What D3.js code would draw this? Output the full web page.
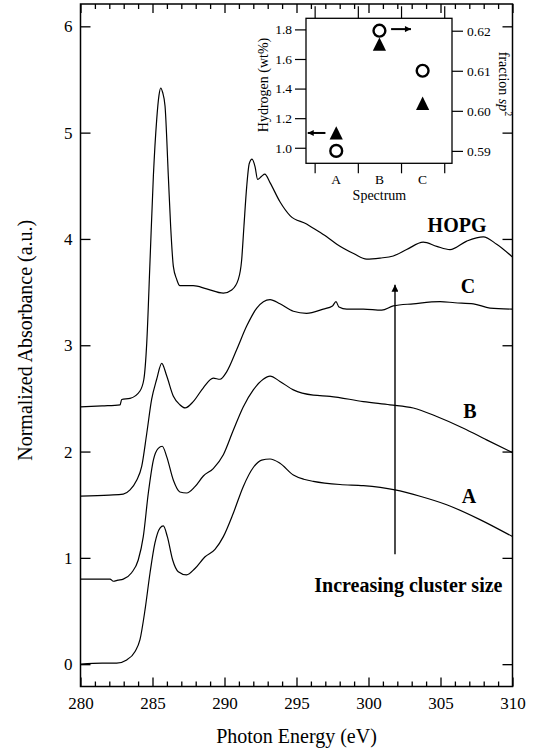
<!DOCTYPE html>
<html>
<head>
<meta charset="utf-8">
<script src="https://cdn.jsdelivr.net/npm/d3@7"></script>
<style>
  body { margin: 0; background: #fff; }
  svg text { font-family: "Liberation Serif", "Times New Roman", serif; fill: #000; }
</style>
</head>
<body>
<div id="wrapper"></div>
<script>
// spectra: [photon energy (eV), normalized absorbance]
const spectrumA = [
  [280, 0.0], [281.5, 0.01], [282.51, 0.01], [283.21, 0.04], [283.79, 0.12], [284.13, 0.23],
  [284.48, 0.51], [284.83, 0.86], [285.17, 1.14], [285.52, 1.28], [285.75, 1.30], [286.03, 1.20],
  [286.4, 0.98], [286.79, 0.87], [287.37, 0.84], [287.95, 0.90], [288.65, 1.01], [289.34, 1.08],
  [289.92, 1.20], [290.61, 1.42], [291.3, 1.67], [292.0, 1.85], [292.58, 1.92], [293.16, 1.93],
  [293.85, 1.89], [294.78, 1.78], [295.5, 1.74], [296.17, 1.72], [298.02, 1.69], [299.64, 1.68],
  [301.84, 1.64], [303.58, 1.58], [305.43, 1.50], [307.74, 1.36], [310, 1.20]
];
const spectrumB = [
  [280, 0.80], [282.05, 0.80], [282.28, 0.78], [282.6, 0.79], [282.97, 0.80], [283.55, 0.86],
  [284.01, 0.98], [284.36, 1.20], [284.71, 1.61], [285.06, 1.92], [285.4, 2.03], [285.68, 2.05],
  [285.99, 1.95], [286.45, 1.73], [286.9, 1.62], [287.37, 1.61], [287.95, 1.67], [288.53, 1.77],
  [289.22, 1.84], [289.92, 1.97], [290.61, 2.20], [291.3, 2.42], [292.0, 2.58], [292.69, 2.68],
  [293.16, 2.71], [293.85, 2.66], [294.78, 2.58], [296.17, 2.53], [297.33, 2.52], [299.64, 2.47],
  [301.49, 2.44], [303.11, 2.41], [304.74, 2.33], [306.59, 2.22], [308.2, 2.11], [310, 1.99]
];
const spectrumC = [
  [280, 1.58], [282, 1.59], [282.97, 1.60], [283.44, 1.64], [283.9, 1.73], [284.25, 1.86],
  [284.6, 2.17], [284.94, 2.49], [285.29, 2.68], [285.64, 2.83], [285.99, 2.71], [286.45, 2.52],
  [286.9, 2.44], [287.26, 2.41], [287.83, 2.47], [288.53, 2.60], [289.22, 2.69], [289.69, 2.68],
  [290.15, 2.75], [290.85, 2.96], [291.54, 3.18], [292.24, 3.35], [292.7, 3.41], [293.16, 3.43],
  [293.85, 3.39], [294.78, 3.32], [295.7, 3.30], [296.86, 3.34], [297.5, 3.37], [297.74, 3.41],
  [297.95, 3.36], [298.49, 3.34], [299.64, 3.34], [300.92, 3.33], [301.72, 3.37], [303.11, 3.39],
  [304.97, 3.41], [306.0, 3.40], [307.28, 3.39], [308.44, 3.35], [310, 3.34]
];
const spectrumHOPG = [
  [280, 2.42], [281.5, 2.43], [282.75, 2.44], [282.86, 2.49], [283.44, 2.50], [284.13, 2.57],
  [284.4, 2.68], [284.6, 3.02], [284.83, 3.80], [285.06, 4.59], [285.29, 5.12], [285.45, 5.35],
  [285.57, 5.42], [285.7, 5.38], [285.87, 5.25], [286.1, 4.59], [286.26, 4.12], [286.45, 3.74],
  [286.68, 3.62], [286.9, 3.56], [287.83, 3.56], [288.76, 3.53], [289.92, 3.49], [290.5, 3.52],
  [290.96, 3.62], [291.19, 3.80], [291.35, 4.12], [291.54, 4.49], [291.72, 4.71], [291.91, 4.75],
  [292.12, 4.68], [292.3, 4.56], [292.58, 4.59], [292.8, 4.61], [293.16, 4.53], [293.85, 4.35],
  [294.55, 4.22], [295.7, 4.14], [296.17, 4.10], [297.1, 4.02], [297.8, 3.95], [299.0, 3.86],
  [299.87, 3.81], [300.8, 3.82], [301.72, 3.84], [302.65, 3.90], [303.8, 3.97], [304.74, 3.93],
  [305.66, 3.90], [306.82, 3.98], [307.97, 4.02], [308.9, 3.95], [310, 3.83]
];

// curve labels: [text, energy, absorbance]
const curveLabels = [["HOPG", 306.15, 4.065], ["C", 306.91, 3.49], ["B", 307.05, 2.316], ["A", 306.98, 1.516]];

// tick values of the main plot
const xMajorTicks = [280, 285, 290, 295, 300, 305, 310];
const xMinorTicks = d3.range(280, 311).filter(d => d % 5 !== 0);
const yTicks = [0, 1, 2, 3, 4, 5, 6];

// inset data
const insetCategories = ["A", "B", "C"];
const hydrogenWt = [1.10, 1.70, 1.30];
const fractionSp2 = [0.590, 0.620, 0.610];
const hydrogenTicks = [1.0, 1.2, 1.4, 1.6, 1.8];
const sp2Ticks = [0.59, 0.60, 0.61, 0.62];

drawChart = () => {

  //1. dimensions
  let dimensions = {
    width: 538,
    height: 753,
    margin: { top: 4, right: 25.5, bottom: 66.5, left: 80.5 }
  };
  dimensions.boundedWidth = dimensions.width - dimensions.margin.left - dimensions.margin.right;
  dimensions.boundedHeight = dimensions.height - dimensions.margin.top - dimensions.margin.bottom;
  const bw = dimensions.boundedWidth, bh = dimensions.boundedHeight;

  //2. canvas
  const svg = d3.select("#wrapper")
    .append("svg")
    .attr("width", dimensions.width)
    .attr("height", dimensions.height);

  const defs = svg.append("defs");
  defs.append("marker").attr("id", "bigHead")
    .attr("viewBox", "0 0 10 10").attr("refX", 10).attr("refY", 5)
    .attr("markerUnits", "userSpaceOnUse")
    .attr("markerWidth", 12).attr("markerHeight", 7).attr("orient", "auto")
    .append("path").attr("d", "M0,0L10,5L0,10Z").attr("fill", "#000");
  defs.append("marker").attr("id", "smallHead")
    .attr("viewBox", "0 0 10 10").attr("refX", 10).attr("refY", 5)
    .attr("markerUnits", "userSpaceOnUse")
    .attr("markerWidth", 8).attr("markerHeight", 6).attr("orient", "auto")
    .append("path").attr("d", "M0,0L10,5L0,10Z").attr("fill", "#000");

  const bounds = svg.append("g")
    .attr("transform", `translate(${dimensions.margin.left},${dimensions.margin.top})`);

  //3. scales
  const xScale = d3.scaleLinear().domain([280, 310]).range([0, bw]);
  const yScale = d3.scaleLinear().domain([-0.21, 6.21]).range([bh, 0]);

  //4. spectra
  const lineGen = d3.line()
    .x(d => xScale(d[0]))
    .y(d => yScale(d[1]))
    .curve(d3.curveMonotoneX);

  bounds.append("g")
    .selectAll("path")
    .data([spectrumA, spectrumB, spectrumC, spectrumHOPG])
    .join("path")
    .attr("d", lineGen)
    .attr("fill", "none")
    .attr("stroke", "#000")
    .attr("stroke-width", 1.2);

  //5. axes (ticks point inward)
  const tidy = g => {
    g.attr("font-family", null).attr("font-size", 17);
    g.select(".domain").remove();
    g.selectAll("line").attr("stroke", "#000").attr("stroke-width", 1.3);
  };

  bounds.append("g")
    .call(d3.axisLeft(yScale).tickValues(yTicks).tickSize(-10).tickPadding(8).tickFormat(d3.format("d")))
    .call(tidy);
  bounds.append("g")
    .attr("transform", `translate(${bw},0)`)
    .call(d3.axisRight(yScale).tickValues(yTicks).tickSize(-10).tickFormat(""))
    .call(tidy);
  bounds.append("g")
    .attr("transform", `translate(0,${bh})`)
    .call(d3.axisBottom(xScale).tickValues(xMajorTicks).tickSize(-9).tickPadding(10).tickFormat(d3.format("d")))
    .call(tidy);
  bounds.append("g")
    .attr("transform", `translate(0,${bh})`)
    .call(d3.axisBottom(xScale).tickValues(xMinorTicks).tickSize(-5).tickFormat(""))
    .call(tidy);
  bounds.append("g")
    .call(d3.axisTop(xScale).tickValues(xMajorTicks).tickSize(-9).tickFormat(""))
    .call(tidy);
  bounds.append("g")
    .call(d3.axisTop(xScale).tickValues(xMinorTicks).tickSize(-5).tickFormat(""))
    .call(tidy);

  bounds.append("rect")
    .attr("width", bw).attr("height", bh)
    .attr("fill", "none").attr("stroke", "#000").attr("stroke-width", 1.5);

  svg.append("text")
    .attr("transform", `translate(31.5,${dimensions.margin.top + bh / 2 - 5}) rotate(-90)`)
    .attr("text-anchor", "middle")
    .attr("font-size", 20)
    .text("Normalized Absorbance (a.u.)");

  svg.append("text")
    .attr("x", dimensions.margin.left + bw / 2)
    .attr("y", 743)
    .attr("text-anchor", "middle")
    .attr("font-size", 20)
    .text("Photon Energy (eV)");

  //6. annotations
  bounds.append("g")
    .selectAll("text")
    .data(curveLabels)
    .join("text")
    .attr("x", d => xScale(d[1]))
    .attr("y", d => yScale(d[2]))
    .attr("text-anchor", "middle")
    .attr("font-size", 20)
    .attr("font-weight", "bold")
    .text(d => d[0]);

  bounds.append("line")
    .attr("x1", xScale(301.84)).attr("x2", xScale(301.84))
    .attr("y1", yScale(1.035)).attr("y2", yScale(3.57))
    .attr("stroke", "#000").attr("stroke-width", 1.4)
    .attr("marker-end", "url(#bigHead)");

  bounds.append("text")
    .attr("x", xScale(302.77))
    .attr("y", yScale(0.679))
    .attr("text-anchor", "middle")
    .attr("font-size", 20)
    .attr("font-weight", "bold")
    .text("Increasing cluster size");

  //7. inset
  const inset = svg.append("g");
  const xIn = d3.scaleLinear().domain([0.3, 3.68]).range([306, 452]);
  const yH = d3.scaleLinear().domain([0.895, 1.875]).range([163.3, 18.3]);
  const ySp = d3.scaleLinear().domain([0.5869, 0.6231]).range([163.3, 18.3]);

  inset.append("rect")
    .attr("x", xIn.range()[0]).attr("y", yH.range()[1])
    .attr("width", xIn.range()[1] - xIn.range()[0])
    .attr("height", yH.range()[0] - yH.range()[1])
    .attr("fill", "#fff").attr("stroke", "#000").attr("stroke-width", 1.3);

  const tidyIn = g => {
    g.attr("font-family", null).attr("font-size", 13.5);
    g.select(".domain").remove();
    g.selectAll("line").attr("stroke", "#000").attr("stroke-width", 1.2);
  };
  const boundaries = [0.5, 1.5, 2.5, 3.5];

  inset.append("g")
    .attr("transform", `translate(${xIn.range()[0]},0)`)
    .call(d3.axisLeft(yH).tickValues(hydrogenTicks).tickSize(11).tickPadding(3).tickFormat(d3.format(".1f")))
    .call(tidyIn);
  inset.append("g")
    .attr("transform", `translate(${xIn.range()[1]},0)`)
    .call(d3.axisRight(ySp).tickValues(sp2Ticks).tickSize(11).tickPadding(4).tickFormat(d3.format(".2f")))
    .call(tidyIn);
  inset.append("g")
    .attr("transform", `translate(0,${yH.range()[0]})`)
    .call(d3.axisBottom(xIn).tickValues(boundaries).tickSize(10).tickFormat(""))
    .call(tidyIn);
  inset.append("g")
    .attr("transform", `translate(0,${yH.range()[1]})`)
    .call(d3.axisTop(xIn).tickValues(boundaries).tickSize(12).tickFormat(""))
    .call(tidyIn);

  inset.append("g")
    .selectAll("text")
    .data(insetCategories)
    .join("text")
    .attr("x", (d, i) => xIn(i + 1))
    .attr("y", 183.5)
    .attr("text-anchor", "middle")
    .attr("font-size", 13.5)
    .text(d => d);

  inset.append("text")
    .attr("x", xIn(2)).attr("y", 200)
    .attr("text-anchor", "middle")
    .attr("font-size", 14)
    .text("Spectrum");

  inset.append("text")
    .attr("transform", `translate(268,85) rotate(-90)`)
    .attr("text-anchor", "middle")
    .attr("font-size", 14)
    .text("Hydrogen (wt%)");

  const sp2Label = inset.append("text")
    .attr("transform", `translate(498.5,84) rotate(90)`)
    .attr("text-anchor", "middle")
    .attr("font-size", 14);
  sp2Label.append("tspan").text("fraction ");
  sp2Label.append("tspan").attr("font-style", "italic").text("sp");
  sp2Label.append("tspan").attr("font-size", 10).attr("dy", -6).text("2");

  // hydrogen: filled triangles
  inset.append("g")
    .selectAll("path")
    .data(hydrogenWt)
    .join("path")
    .attr("transform", (d, i) => `translate(${xIn(i + 1)},${yH(d)})`)
    .attr("d", "M0,-6.8L6.6,6.6L-6.6,6.6Z")
    .attr("fill", "#000");

  // sp2 fraction: open circles
  inset.append("g")
    .selectAll("circle")
    .data(fractionSp2)
    .join("circle")
    .attr("cx", (d, i) => xIn(i + 1))
    .attr("cy", d => ySp(d))
    .attr("r", 5.9)
    .attr("fill", "#fff")
    .attr("stroke", "#000")
    .attr("stroke-width", 2.4);

  // arrows pointing to the matching axis
  inset.append("line")
    .attr("x1", xIn(0.75)).attr("x2", xIn(0.34))
    .attr("y1", yH(hydrogenWt[0])).attr("y2", yH(hydrogenWt[0]))
    .attr("stroke", "#000").attr("stroke-width", 2)
    .attr("marker-end", "url(#smallHead)");
  inset.append("line")
    .attr("x1", xIn(2.27)).attr("x2", xIn(2.73))
    .attr("y1", ySp(0.6204)).attr("y2", ySp(0.6204))
    .attr("stroke", "#000").attr("stroke-width", 2)
    .attr("marker-end", "url(#smallHead)");
};

drawChart();
</script>
</body>
</html>
